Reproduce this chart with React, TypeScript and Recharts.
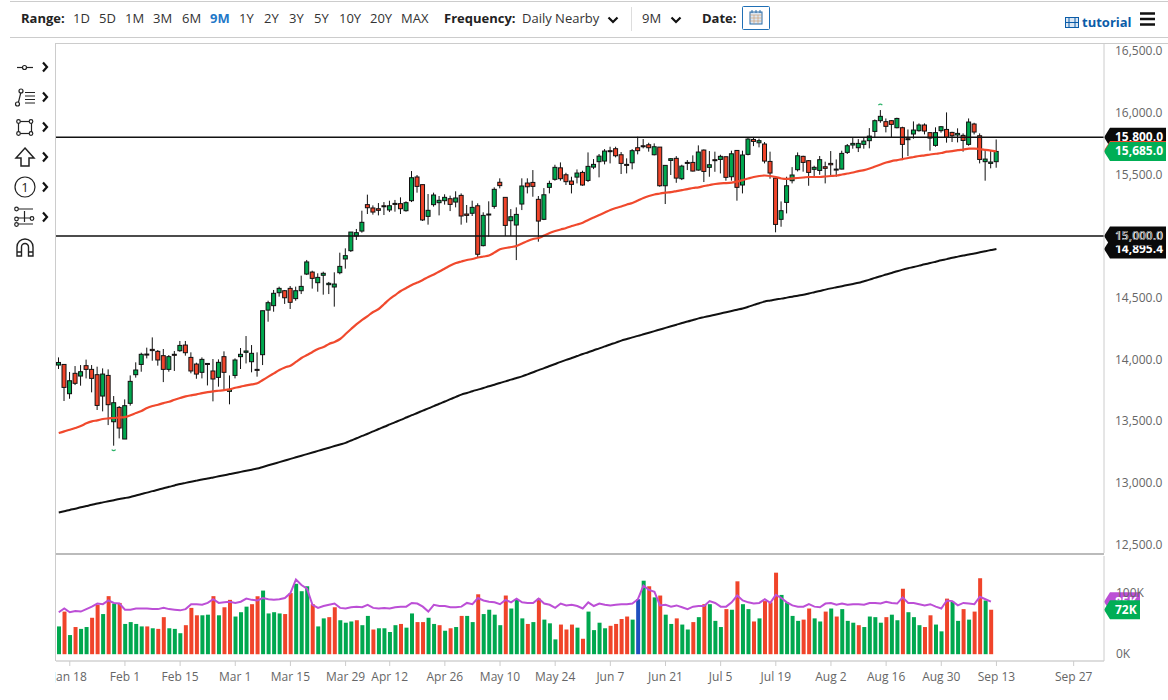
import React from 'react';
import { ComposedChart, Bar, Line, XAxis, YAxis, ReferenceLine, Cell } from 'recharts';

// daily nearby futures
const opens = [
  13955, 13960, 13723, 13888, 13866, 13950, 13920, 13877, 13704, 13871,
  13496, 13612, 13356, 13645, 13877, 13960, 14044, 14082, 14066, 14031,
  13920, 14042, 14071, 14117, 14017, 13963, 13896, 13968, 13907, 13855,
  14023, 13742, 13871, 14023, 14058, 13982, 13920, 14039, 14400, 14436,
  14541, 14557, 14576, 14493, 14557, 14692, 14708, 14622, 14682, 14606,
  14587, 14703, 14814, 14881, 15000, 15040, 15254, 15227, 15221, 15245,
  15211, 15264, 15262, 15205, 15286, 15478, 15416, 15159, 15254, 15270,
  15286, 15302, 15275, 15329, 15178, 15184, 15245, 14922, 15178, 15240,
  15435, 15313, 15124, 15089, 15259, 15429, 15434, 15297, 15135, 15394,
  15459, 15552, 15496, 15445, 15477, 15515, 15450, 15558, 15602, 15607,
  15691, 15707, 15658, 15580, 15593, 15715, 15731, 15739, 15658, 15720,
  15407, 15612, 15629, 15464, 15596, 15596, 15534, 15696, 15556, 15618,
  15620, 15642, 15480, 15693, 15413, 15661, 15782, 15755, 15745, 15604,
  15469, 15135, 15272, 15448, 15537, 15645, 15610, 15540, 15531, 15561,
  15588, 15542, 15542, 15677, 15737, 15715, 15742, 15772, 15847, 15934,
  15926, 15934, 15877, 15877, 15788, 15826, 15853, 15899, 15837, 15734,
  15853, 15863, 15839, 15818, 15815, 15742, 15907, 15812, 15602, 15588,
  15602,
];
const highs = [
  14017, 13960, 13899, 13947, 13955, 13999, 13955, 13942, 13928, 13920,
  13704, 13623, 13677, 13871, 13977, 14055, 14096, 14179, 14077, 14085,
  14036, 14069, 14150, 14150, 14058, 13974, 14017, 13968, 14004, 14001,
  14066, 13871, 14009, 14093, 14190, 14117, 14058, 14395, 14476, 14563,
  14590, 14563, 14595, 14590, 14679, 14806, 14719, 14698, 14711, 14628,
  14706, 14865, 14900, 15032, 15057, 15205, 15335, 15248, 15267, 15275,
  15286, 15292, 15313, 15281, 15526, 15494, 15416, 15340, 15351, 15324,
  15338, 15327, 15362, 15345, 15251, 15286, 15265, 15192, 15281, 15394,
  15467, 15313, 15218, 15232, 15467, 15467, 15534, 15324, 15388, 15448,
  15577, 15596, 15512, 15480, 15539, 15529, 15677, 15623, 15664, 15704,
  15723, 15723, 15680, 15629, 15704, 15804, 15785, 15755, 15750, 15720,
  15572, 15631, 15647, 15577, 15615, 15653, 15734, 15701, 15688, 15683,
  15658, 15642, 15691, 15693, 15691, 15799, 15799, 15788, 15761, 15683,
  15469, 15280, 15480, 15558, 15677, 15650, 15615, 15569, 15648, 15602,
  15688, 15620, 15691, 15745, 15793, 15785, 15799, 15874, 15944, 16020,
  15952, 15939, 15958, 15885, 15863, 15928, 15912, 15912, 15839, 15880,
  15890, 16001, 15844, 15872, 15831, 15952, 15917, 15831, 15688, 15696,
  15782,
];
const lows = [
  13923, 13664, 13682, 13793, 13788, 13847, 13734, 13591, 13580, 13469,
  13302, 13361, 13356, 13626, 13853, 13901, 14009, 13990, 13950, 13817,
  13901, 13907, 14063, 14031, 13888, 13844, 13847, 13790, 13661, 13780,
  13745, 13637, 13847, 13923, 13968, 13896, 13861, 13955, 14306, 14387,
  14509, 14450, 14409, 14476, 14530, 14684, 14574, 14549, 14525, 14530,
  14428, 14690, 14736, 14871, 14968, 15027, 15178, 15173, 15167, 15170,
  15194, 15197, 15178, 15197, 15275, 15351, 15122, 15092, 15238, 15167,
  15254, 15202, 15232, 15092, 15108, 15162, 14830, 14916, 14995, 15221,
  15386, 15000, 15000, 14805, 15210, 15345, 15318, 14954, 15129, 15345,
  15448, 15448, 15413, 15345, 15426, 15407, 15437, 15542, 15475, 15580,
  15588, 15637, 15502, 15507, 15540, 15661, 15710, 15683, 15653, 15399,
  15259, 15494, 15431, 15453, 15534, 15523, 15529, 15437, 15480, 15520,
  15507, 15448, 15448, 15286, 15345, 15653, 15728, 15718, 15588, 15464,
  15030, 15075, 15183, 15426, 15523, 15521, 15407, 15486, 15496, 15426,
  15480, 15480, 15540, 15664, 15707, 15680, 15707, 15710, 15799, 15917,
  15839, 15799, 15872, 15615, 15647, 15788, 15845, 15823, 15691, 15723,
  15837, 15756, 15761, 15758, 15683, 15731, 15823, 15588, 15448, 15548,
  15553,
];
const closes = [
  13976, 13774, 13828, 13807, 13901, 13920, 13847, 13628, 13882, 13634,
  13650, 13445, 13626, 13823, 13915, 14042, 14040, 14072, 13996, 13920,
  14023, 14034, 14114, 14055, 13907, 13882, 14001, 13960, 13842, 13977,
  13896, 13758, 13996, 14042, 14069, 14050, 13912, 14395, 14460, 14536,
  14576, 14500, 14463, 14557, 14592, 14790, 14657, 14665, 14698, 14617,
  14611, 14754, 14841, 15032, 15027, 15111, 15229, 15194, 15208, 15237,
  15245, 15257, 15221, 15270, 15472, 15402, 15130, 15208, 15332, 15289,
  15313, 15256, 15308, 15162, 15167, 15232, 14852, 15167, 15170, 15378,
  15408, 15086, 15156, 15175, 15405, 15399, 15402, 15121, 15334, 15426,
  15556, 15464, 15440, 15418, 15510, 15413, 15564, 15580, 15647, 15688,
  15683, 15650, 15588, 15572, 15691, 15691, 15723, 15715, 15723, 15407,
  15572, 15626, 15469, 15566, 15588, 15526, 15680, 15523, 15577, 15610,
  15645, 15475, 15666, 15394, 15656, 15785, 15766, 15772, 15607, 15510,
  15094, 15205, 15407, 15494, 15650, 15596, 15515, 15556, 15618, 15548,
  15577, 15534, 15669, 15731, 15750, 15750, 15769, 15809, 15934, 15969,
  15888, 15904, 15952, 15742, 15780, 15858, 15899, 15850, 15793, 15837,
  15885, 15799, 15812, 15831, 15774, 15923, 15842, 15620, 15623, 15599,
  15685,
];
const redAverage = [
  13404, 13418, 13431, 13445, 13461, 13483, 13499, 13507, 13518, 13523,
  13526, 13531, 13534, 13548, 13566, 13583, 13607, 13623, 13634, 13647,
  13658, 13674, 13688, 13701, 13710, 13718, 13728, 13736, 13742, 13747,
  13752, 13758, 13771, 13780, 13790, 13799, 13807, 13834, 13861, 13888,
  13915, 13936, 13950, 13980, 14012, 14036, 14061, 14085, 14101, 14126,
  14142, 14166, 14206, 14247, 14287, 14320, 14352, 14385, 14409, 14449,
  14490, 14522, 14555, 14579, 14603, 14623, 14644, 14668, 14688, 14713,
  14737, 14761, 14781, 14794, 14806, 14814, 14826, 14834, 14842, 14866,
  14892, 14903, 14911, 14919, 14939, 14960, 14976, 14984, 15004, 15024,
  15040, 15053, 15065, 15081, 15093, 15108, 15130, 15150, 15170, 15190,
  15211, 15227, 15239, 15255, 15267, 15287, 15308, 15324, 15336, 15344,
  15352, 15356, 15364, 15372, 15380, 15389, 15394, 15405, 15413, 15421,
  15427, 15429, 15433, 15441, 15453, 15466, 15478, 15486, 15490, 15486,
  15478, 15466, 15462, 15466, 15470, 15474, 15478, 15478, 15478, 15482,
  15486, 15490, 15498, 15506, 15514, 15526, 15534, 15547, 15563, 15579,
  15595, 15607, 15615, 15623, 15632, 15640, 15648, 15653, 15660, 15666,
  15672, 15683, 15688, 15695, 15700, 15707, 15708, 15704, 15698, 15692,
  15686,
];
const blackAverage = [
  12761, 12771, 12782, 12792, 12803, 12813, 12823, 12834, 12843, 12852,
  12861, 12870, 12878, 12887, 12899, 12911, 12922, 12934, 12945, 12957,
  12969, 12980, 12992, 13001, 13010, 13019, 13028, 13036, 13045, 13054,
  13063, 13072, 13081, 13090, 13099, 13108, 13117, 13130, 13143, 13156,
  13169, 13182, 13195, 13208, 13221, 13234, 13247, 13260, 13273, 13286,
  13299, 13312, 13325, 13344, 13362, 13381, 13399, 13418, 13437, 13455,
  13474, 13493, 13511, 13530, 13549, 13567, 13586, 13604, 13623, 13642,
  13660, 13679, 13697, 13716, 13729, 13743, 13756, 13769, 13783, 13796,
  13810, 13823, 13837, 13850, 13863, 13880, 13897, 13914, 13930, 13947,
  13964, 13981, 13997, 14012, 14028, 14044, 14059, 14075, 14090, 14106,
  14122, 14137, 14153, 14166, 14179, 14191, 14204, 14217, 14230, 14243,
  14256, 14269, 14282, 14295, 14307, 14320, 14333, 14343, 14353, 14363,
  14373, 14383, 14393, 14403, 14413, 14427, 14442, 14456, 14470, 14478,
  14486, 14493, 14501, 14509, 14517, 14524, 14535, 14545, 14555, 14566,
  14576, 14585, 14594, 14603, 14612, 14621, 14634, 14647, 14661, 14674,
  14688, 14701, 14715, 14728, 14739, 14749, 14760, 14771, 14781, 14792,
  14803, 14813, 14824, 14833, 14842, 14851, 14859, 14868, 14877, 14886,
  14895,
];
const volumes = [
  45, 69, 31, 44, 41, 44, 59, 80, 65, 94,
  82, 83, 49, 52, 49, 45, 45, 42, 41, 60,
  42, 41, 34, 47, 75, 63, 63, 64, 94, 63,
  76, 88, 61, 68, 77, 81, 94, 103, 66, 68,
  66, 65, 99, 114, 102, 110, 81, 45, 58, 60,
  76, 55, 51, 53, 55, 47, 62, 40, 42, 42,
  36, 47, 49, 43, 66, 52, 52, 59, 49, 47,
  38, 42, 44, 62, 62, 52, 97, 65, 72, 64,
  47, 95, 74, 88, 58, 49, 52, 90, 56, 50,
  24, 48, 40, 48, 43, 25, 69, 39, 51, 42,
  46, 49, 57, 61, 56, 89, 119, 110, 92, 95,
  64, 49, 58, 48, 40, 52, 60, 81, 81, 54,
  44, 73, 72, 118, 81, 73, 53, 58, 86, 84,
  132, 96, 84, 62, 54, 56, 74, 58, 53, 69,
  74, 61, 73, 54, 51, 47, 44, 61, 60, 51,
  60, 64, 55, 106, 68, 60, 47, 44, 63, 48,
  37, 90, 85, 54, 73, 56, 69, 123, 87, 72,
];
const volumeSides = [
  'GRGRGGRRGR', 'GRGGGGRGRR', 'GGGRRRGGRG', 'RRGGGRRGGG', 'GRRGGGRGGR', 'RGGGRGGRGG',
  'GGRGGRRGGR', 'GRGRGGRGGG', 'GRGGGRGRGG', 'GRRRGRGGGG', 'RRRRGBGRGR', 'GGRGGRGRGG',
  'GRGRGGRGRR', 'RGGGGRRGGR', 'GRGGGRGGGG', 'RGGRGGGRRG', 'GRGGRGRRGR',
].join('');
const volumeAverage = [
  68, 74, 68, 70, 69, 73, 77, 82, 81, 87,
  83, 82, 72, 72, 74, 74, 74, 73, 73, 75,
  73, 72, 71, 73, 81, 81, 80, 83, 89, 83,
  84, 85, 83, 85, 90, 88, 87, 91, 89, 88,
  89, 91, 99, 121, 112, 106, 80, 75, 78, 80,
  82, 75, 74, 76, 77, 76, 80, 75, 74, 75,
  74, 76, 77, 77, 83, 82, 77, 69, 80, 78,
  78, 76, 76, 77, 83, 81, 91, 87, 85, 84,
  81, 88, 84, 90, 84, 83, 83, 90, 82, 80,
  75, 82, 79, 80, 78, 74, 84, 78, 82, 80,
  79, 80, 81, 81, 82, 89, 111, 104, 101, 79,
  80, 77, 79, 76, 73, 77, 78, 78, 86, 83,
  77, 77, 84, 95, 87, 84, 82, 83, 89, 83,
  96, 91, 84, 79, 77, 77, 81, 77, 76, 82,
  83, 80, 82, 80, 81, 81, 80, 83, 83, 82,
  85, 83, 82, 92, 83, 83, 81, 79, 81, 77,
  74, 87, 86, 79, 83, 82, 81, 93, 89, 85,
];
const priceTicks = [12500, 13000, 13500, 14000, 14500, 15000, 15500, 16000, 16500];
const volumeTicks = [0, 100];
const dateTicks = [2, 12, 22, 32, 42, 52, 60, 70, 80, 90, 100, 110, 120, 130, 140, 150, 160, 170, 184];
const dateLabels = [
  'Jan 18', 'Feb 1', 'Feb 15', 'Mar 1', 'Mar 15', 'Mar 29', 'Apr 12', 'Apr 26', 'May 10', 'May 24',
  'Jun 7', 'Jun 21', 'Jul 5', 'Jul 19', 'Aug 2', 'Aug 16', 'Aug 30', 'Sep 13', 'Sep 27',
];
const extremeBars = [10, 149];

const SLOTS = 190;
const FONT = '"Open Sans", sans-serif';
const GREEN = '#00A84F';
const RED = '#F0442A';
const SIDE_COLORS: Record<string, string> = { G: GREEN, R: RED, B: '#1F4FBF' };

const rows = Array.from({ length: SLOTS }, (_, i) => ({
  i,
  open: opens[i] ?? null,
  high: highs[i] ?? null,
  low: lows[i] ?? null,
  close: closes[i] ?? null,
  red: redAverage[i] ?? null,
  black: blackAverage[i] ?? null,
  volume: volumes[i] ?? null,
  volumeAvg: volumeAverage[i] ?? null,
}));

const Candle = (props: any) => {
  const { x, y, width, height, payload } = props;
  if (payload.high == null) return null;
  const cx = x + width / 2;
  const unit = height / (payload.high - payload.low);
  const top = y + (payload.high - Math.max(payload.open, payload.close)) * unit;
  const bodyH = Math.max(Math.abs(payload.open - payload.close) * unit, 1);
  const up = payload.close >= payload.open;
  return (
    <g>
      <line x1={cx} x2={cx} y1={y} y2={y + height} stroke="#111" strokeWidth={1} />
      <rect x={cx - 2} y={top} width={4} height={bodyH} fill={up ? GREEN : RED} stroke="#111" strokeWidth={1} />
      {extremeBars.includes(payload.i) && (
        <path
          d={payload.i === 10
            ? `M${cx - 2} ${y + height + 4} q2 2 4 0`
            : `M${cx - 2} ${y - 5} q2 -2 4 0`}
          fill="none"
          stroke="#2FB36A"
          strokeWidth={1.2}
        />
      )}
    </g>
  );
};

// price flag on the axis, drawn from the reference line's own position
const flag = (text: string, fill: string, right: number, textX: number) => (props: any) => {
  const vb = props.viewBox;
  const tip = vb.x + vb.width;
  const cy = vb.y;
  return (
    <g>
      <polygon
        points={`${tip},${cy} ${tip + 6},${cy - 9.5} ${right},${cy - 9.5} ${right},${cy + 9.5} ${tip + 6},${cy + 9.5}`}
        fill={fill}
      />
      <text x={textX} y={cy + 4} fill="#fff" fontSize={12} fontWeight={700} fontFamily={FONT}>
        {text}
      </text>
    </g>
  );
};

const headerItems = [
  { label: '1D', x: 73 }, { label: '5D', x: 99 }, { label: '1M', x: 125 }, { label: '3M', x: 153 },
  { label: '6M', x: 182 }, { label: '1Y', x: 239 }, { label: '2Y', x: 264 }, { label: '3Y', x: 289 },
  { label: '5Y', x: 314 }, { label: '10Y', x: 339 }, { label: '20Y', x: 370 }, { label: 'MAX', x: 401 },
  { label: 'Daily Nearby', x: 522 }, { label: '9M', x: 642 },
];
const toolChevrons = [67, 97, 127, 157, 187, 217];

const Txt = ({ x, y, bold, color, size, children }: any) => (
  <span style={{
    position: 'absolute', left: x, top: y, fontSize: size ?? 13, lineHeight: '18px', whiteSpace: 'nowrap',
    fontWeight: bold ? 700 : 400, color: color ?? '#333',
  }}>{children}</span>
);

const Rule = ({ x, y, w, h, c }: any) => (
  <div style={{ position: 'absolute', left: x, top: y, width: w, height: h, background: c }} />
);

const Chevron = ({ x, y }: any) => (
  <path d={`M${x - 4.5} ${y - 2.5} L${x} ${y + 2} L${x + 4.5} ${y - 2.5}`} fill="none" stroke="#111" strokeWidth={2.2} />
);
const SideChevron = ({ y }: any) => (
  <path d={`M43 ${y - 4.5} L47 ${y} L43 ${y + 4.5}`} fill="none" stroke="#111" strokeWidth={2.2} />
);

const Chrome = () => (
  <svg width={1168} height={270} style={{ position: 'absolute', left: 0, top: 0, pointerEvents: 'none' }}>
    <Chevron x={613} y={20} />
    <Chevron x={676} y={20} />
    {/* calendar button */}
    <rect x={742.5} y={6.5} width={27} height={23} rx={1} fill="#fff" stroke="#1F6FB5" />
    <rect x={750} y={12} width={12} height={12} fill="#DCE7F3" stroke="#2B6CA8" />
    <path d="M750 15 H762 M754 15 V24 M758 15 V24 M750 18 H762 M750 21 H762" stroke="#C96" strokeWidth={0.6} />
    <path d="M752 10 V13 M756 10 V13 M760 10 V13" stroke="#2B6CA8" />
    {/* tutorial film icon */}
    <rect x={1065.5} y={17.5} width={13} height={10} fill="#DCE7F3" stroke="#0B5CA8" />
    <path d="M1069 18 V27 M1075 18 V27 M1066 22.5 H1078" stroke="#0B5CA8" />
    {/* menu */}
    <path d="M1140 13.5 H1155 M1140 19 H1155 M1140 24.5 H1155" stroke="#111" strokeWidth={2.4} />
    {toolChevrons.map((y) => <SideChevron key={y} y={y} />)}
    {/* drawing tools */}
    <g fill="none" stroke="#222" strokeWidth={1.2}>
      <path d="M17 67.5 H33" />
      <circle cx={24.5} cy={67.5} r={2} fill="#fff" />
      <path d="M18 104 L21 92" />
      <circle cx={17.5} cy={104} r={2} fill="#fff" />
      <circle cx={21} cy={91} r={2} fill="#fff" />
      <path d="M25 92.5 H35 M25 96 H35 M25 99.5 H35 M25 103 H35" />
      <rect x={18.5} y={121.5} width={13} height={12} />
      <circle cx={18.5} cy={121.5} r={1.8} fill="#fff" />
      <circle cx={31} cy={121.5} r={1.8} fill="#fff" />
      <circle cx={18.5} cy={133.5} r={1.8} fill="#fff" />
      <circle cx={31} cy={133.5} r={1.8} fill="#fff" />
      <path d="M25 148 L34 158 H29 V166 H21 V158 H16 Z" strokeWidth={1.5} />
      <circle cx={25} cy={187} r={10} />
      <path d="M15 209 H33 M16 218 H33 M15 224 H33 M24.5 211 V222" />
      <circle cx={16.5} cy={209} r={1.8} fill="#fff" />
      <circle cx={16.5} cy={219} r={1.8} fill="#fff" />
      <circle cx={16.5} cy={224.5} r={1.8} fill="#fff" />
      <circle cx={32} cy={218.5} r={1.8} fill="#fff" />
      <path d="M17 256 V247 A8 8 0 0 1 33 247 V256 H28.5 V247 A3.5 3.5 0 0 0 21.5 247 V256 Z M17 252 H21.5 M28.5 252 H33" strokeWidth={1.4} />
    </g>
    <text x={25} y={191.5} textAnchor="middle" fontSize={13} fontFamily={FONT} fill="#222">1</text>
  </svg>
);

export default function App() {
  return (
    <div style={{ position: 'absolute', left: 0, top: 0, width: 1168, height: 700, overflow: 'hidden', background: '#fff', fontFamily: FONT }}>
      {/* range bar */}
      <Rule x={10} y={1} w={1158} h={1} c="#ccc" />
      <Rule x={10} y={37} w={1158} h={1} c="#ccc" />
      <Rule x={631} y={7} w={1} h={24} c="#ddd" />
      <Txt x={21} y={9} bold color="#222">Range:</Txt>
      <Txt x={210} y={9} bold color="#1F78C8">9M</Txt>
      <Txt x={444} y={9} bold color="#222">Frequency:</Txt>
      <Txt x={702} y={9} bold color="#222">Date:</Txt>
      <Txt x={1082} y={13} bold color="#0B5CA8">tutorial</Txt>
      {headerItems.map((h) => <Txt key={h.label} x={h.x} y={9}>{h.label}</Txt>)}

      {/* pane frame */}
      <Rule x={55} y={43} w={1113} h={1} c="#ccc" />
      <Rule x={55} y={43} w={1} h={618} c="#ccc" />
      <Rule x={56} y={553} w={1048} h={2} c="#bbb" />

      <div style={{ position: 'absolute', left: 0, top: 0 }}>
        <ComposedChart width={1168} height={553} data={rows} margin={{ top: 43, left: 56, right: 0, bottom: 0 }}>
          <XAxis dataKey="i" hide />
          <YAxis
            orientation="right"
            width={64}
            domain={[12433, 16563]}
            ticks={priceTicks}
            allowDataOverflow
            tickSize={0}
            tickMargin={11}
            axisLine={{ stroke: '#ccc' }}
            tick={{ fill: '#666', fontSize: 12, fontFamily: FONT }}
            tickFormatter={(v: number) => v.toLocaleString('en-US', { minimumFractionDigits: 1 })}
          />
          <Line dataKey="black" type="monotone" stroke="#111" strokeWidth={2} dot={false} isAnimationActive={false} />
          <Line dataKey="red" type="monotone" stroke="#F0492D" strokeWidth={2.2} dot={false} isAnimationActive={false} />
          <ReferenceLine y={15800} stroke="#111" strokeWidth={1.4} label={flag('15,800.0', '#0a0a0a', 1166, 1115)} />
          <ReferenceLine y={15693} stroke="none" label={flag('', '#F0492D', 1166, 1115)} />
          <ReferenceLine y={15685} stroke="none" label={flag('15,685.0', '#00AE55', 1166, 1115)} />
          <ReferenceLine y={14895.4} stroke="none" label={flag('14,895.4', '#0a0a0a', 1166, 1115)} />
          <ReferenceLine y={15000} stroke="#111" strokeWidth={1.4} label={flag('15,000.0', '#0a0a0a', 1166, 1115)} />
          <Bar
            dataKey={(d: any) => (d.high == null ? null : [d.low, d.high])}
            barSize={5}
            shape={Candle}
            isAnimationActive={false}
          />
        </ComposedChart>
      </div>

      <div style={{ position: 'absolute', left: 0, top: 554 }}>
        <ComposedChart width={1168} height={134} data={rows} margin={{ top: 2, left: 56, right: 0, bottom: 0 }}>
          <XAxis
            dataKey="i"
            height={27}
            ticks={dateTicks}
            interval={0}
            axisLine={{ stroke: '#ddd', strokeWidth: 2 }}
            tickLine={{ stroke: '#ccc' }}
            tickSize={5}
            tickMargin={6}
            tick={{ fill: '#666', fontSize: 12, fontFamily: FONT }}
            tickFormatter={(v: number) => dateLabels[dateTicks.indexOf(v)]}
          />
          <YAxis
            orientation="right"
            width={64}
            domain={[-11, 159]}
            ticks={volumeTicks}
            allowDataOverflow
            tickSize={0}
            tickMargin={12}
            axisLine={{ stroke: '#ccc' }}
            tick={{ fill: '#666', fontSize: 12, fontFamily: FONT }}
            tickFormatter={(v: number) => `${v}K`}
          />
          <Bar dataKey="volume" barSize={4} isAnimationActive={false}>
            {rows.map((r) => (
              <Cell key={r.i} fill={SIDE_COLORS[volumeSides[r.i]] ?? 'none'} />
            ))}
          </Bar>
          <Line dataKey="volumeAvg" stroke="#BC4FD6" strokeWidth={2} dot={false} isAnimationActive={false} />
          <ReferenceLine y={85} stroke="none" label={flag('85K', '#BC4FD6', 1140, 1115)} />
          <ReferenceLine y={72} stroke="none" label={flag('72K', '#00AE55', 1140, 1115)} />
        </ComposedChart>
      </div>

      {/* first date label is cut at the pane edge */}
      <Rule x={0} y={664} w={55} h={30} c="#fff" />
      <Chrome />
    </div>
  );
}
